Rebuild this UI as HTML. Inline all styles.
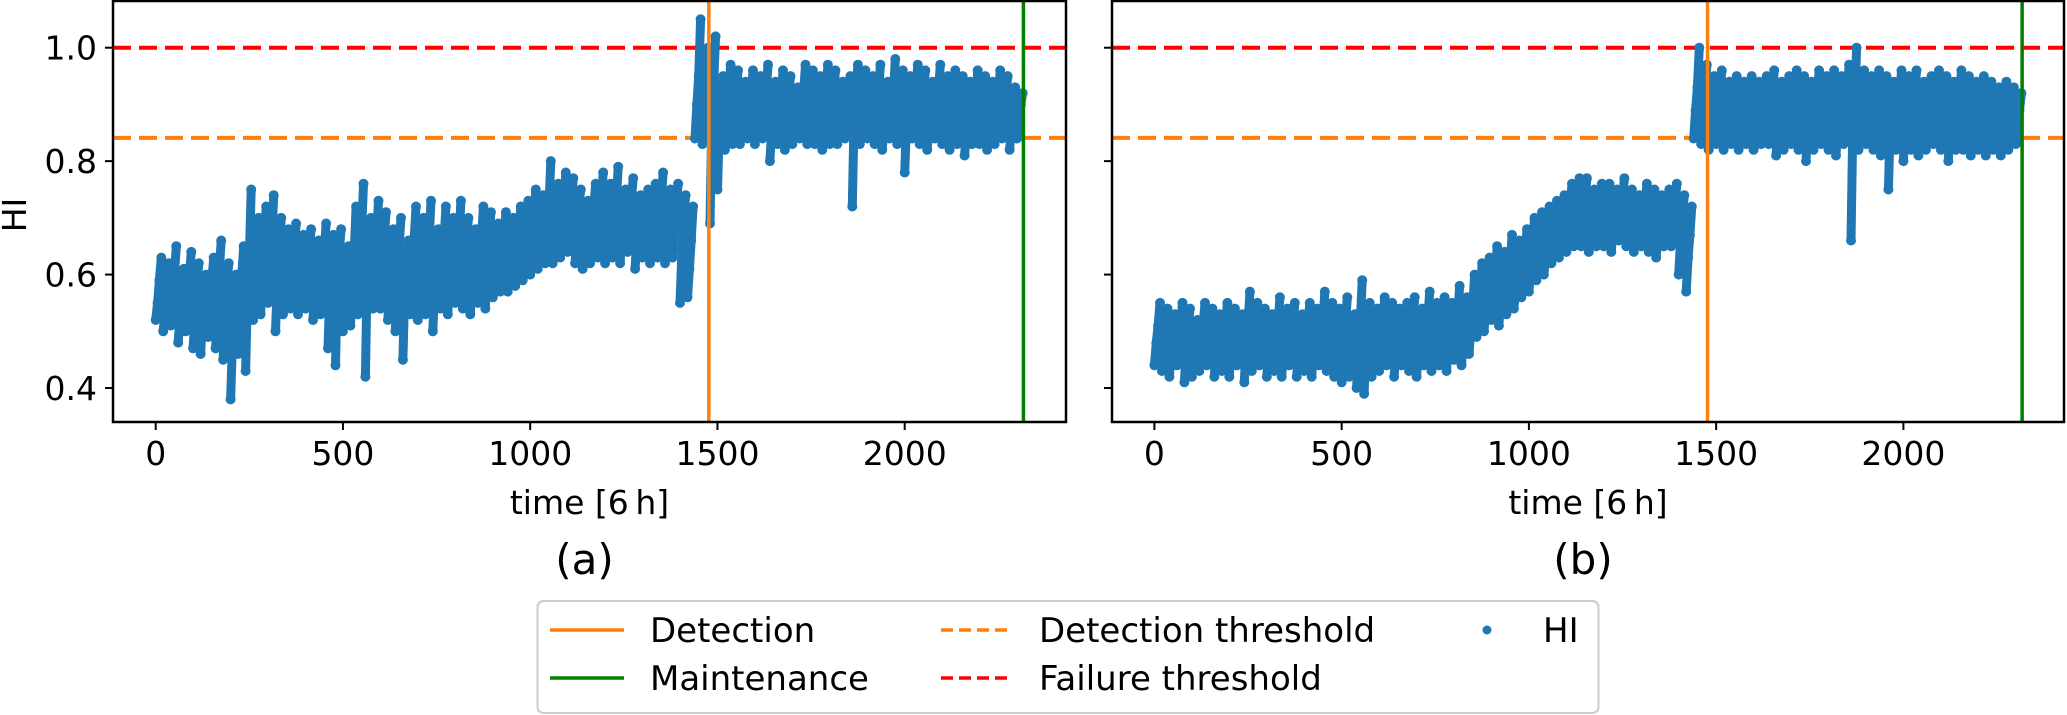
<!DOCTYPE html>
<html><head><meta charset="utf-8">
<style>
html,body{margin:0;padding:0;background:#fff;}
svg{display:block;font-family:"DejaVu Sans","Liberation Sans",sans-serif;}
</style></head>
<body>
<svg id="chart" width="2067" height="715" viewBox="0 0 2067 715" xmlns="http://www.w3.org/2000/svg">
<g id="panels"></g>
<g id="legend">
  <rect x="537.5" y="601" width="1061" height="112" rx="6" fill="#fff" stroke="#cccccc" stroke-width="2"/>
  <g>
    <line x1="550" y1="630" x2="624" y2="630" stroke="#ff7f0e" stroke-width="3.5"/>
    <text x="650" y="642" font-size="34">Detection</text>
  </g>
  <g>
    <line x1="550" y1="678" x2="624" y2="678" stroke="#008000" stroke-width="3.5"/>
    <text x="650" y="690" font-size="34">Maintenance</text>
  </g>
  <g>
    <line x1="941" y1="630" x2="1011" y2="630" stroke="#ff7f0e" stroke-width="3.5" stroke-dasharray="12,6"/>
    <text x="1039" y="642" font-size="34">Detection threshold</text>
  </g>
  <g>
    <line x1="941" y1="678" x2="1011" y2="678" stroke="#ff0000" stroke-width="3.5" stroke-dasharray="12,6"/>
    <text x="1039" y="690" font-size="34">Failure threshold</text>
  </g>
  <g>
    <circle cx="1487" cy="630" r="4.5" fill="#1f77b4"/>
    <text x="1543" y="642" font-size="34">HI</text>
  </g>
</g>
</svg>
<script>
// ---- data (values in hundredths of HI), one entry per 20 time units from t=0 ----
const timeStep = 20;
const xTicks = [0, 500, 1000, 1500, 2000];
const yTicks = [0.4, 0.6, 0.8, 1.0];
const yTickLabels = ["0.4", "0.6", "0.8", "1.0"];
const detectionTime = 1477;
const maintenanceTime = 2317;
const detectionThreshold = 0.841;
const failureThreshold = 1.0;

const hiA_hi = [63,62,65,61,64,62,60,63,66,62, 60,65,75,70,72,74,70,68,69,67, 68,66,69,67,68,65,72,76,70,73, 71,68,70,66,72,70,73,68,72,70, 73,70,68,72,71,69,71,70,72,73, 75,74,80,76,78,77,75,73,76,78, 76,79,75,77,74,75,76,78,75,76, 74,72,105,100,102,95,97,96,94,96, 95,97,94,96,95,93,97,96,95,97, 96,94,95,97,96,95,97,94,98,96, 95,97,96,94,97,95,96,95,94,96, 95,94,96,95,93,92];
const hiA_m2 = [59,58,60,58,60,58,57,59,61,58, 55,60,63,64,65,66,64,63,64,63, 64,63,64,62,64,62,64,68,66,67, 66,64,65,62,66,64,66,63,66,65, 66,65,64,66,66,65,66,66,67,68, 69,70,72,71,72,73,72,71,72,73, 72,73,72,73,71,72,72,73,72,72, 69,66,95,93,94,90,91,91,90,91, 91,92,90,91,91,90,92,91,91,92, 91,90,91,92,91,91,92,90,92,91, 91,92,91,90,92,91,91,91,90,91, 91,90,91,91,90,90];
const hiA_m1 = [55,54,55,53,55,53,52,54,55,53, 48,54,57,59,60,61,59,58,59,58, 59,58,59,57,59,57,58,61,61,62, 61,59,60,57,60,59,60,58,61,60, 61,60,60,61,61,61,62,62,63,64, 65,66,67,67,68,69,68,67,68,69, 68,69,68,69,67,68,68,69,68,68, 64,61,90,88,87,86,87,87,87,87, 87,88,86,87,87,86,88,87,87,88, 87,86,87,88,87,87,88,86,88,87, 87,88,87,86,88,87,87,87,86,87, 87,86,87,87,86,87];
const hiA_lo = [52,50,51,48,50,47,46,49,47,45, 38,46,43,52,53,55,50,53,54,53, 54,52,53,47,44,50,51,53,42,54, 54,52,50,45,53,52,53,50,54,53, 55,54,53,55,54,56,57,57,58,59, 60,61,62,62,63,64,62,61,62,63, 62,63,62,64,61,63,62,63,62,63, 55,56,84,83,69,75,82,83,83,84, 83,84,80,83,82,83,84,83,83,82, 83,83,84,72,83,84,83,82,84,83, 78,84,83,82,84,83,82,83,81,83, 83,82,83,84,82,84];

const hiB_hi = [55,54,53,55,54,52,55,54,53,55, 54,53,57,55,54,53,56,54,55,53, 55,54,57,55,54,56,53,59,55,54, 56,55,54,55,56,54,57,55,56,55, 58,56,60,62,63,65,64,67,66,68, 70,71,72,73,74,76,77,77,75,76, 76,75,77,75,74,76,75,74,75,76, 74,72,100,97,95,96,94,95,94,95, 94,95,96,94,95,96,95,94,96,95, 96,95,97,100,96,95,96,95,94,96, 95,96,94,95,96,95,94,96,95,94, 95,94,93,94,93,92];
const hiB_m2 = [51,50,50,51,50,49,51,50,50,51, 50,50,51,51,50,50,51,50,51,50, 51,50,51,51,50,51,50,52,51,50, 51,51,50,51,51,50,52,51,51,51, 52,52,54,56,57,59,59,61,61,63, 64,66,67,69,70,72,72,73,72,72, 72,72,73,72,71,72,72,71,72,72, 70,67,93,91,90,91,90,91,90,91, 90,91,91,90,91,91,91,90,91,91, 91,90,91,90,91,91,91,91,90,91, 91,91,90,91,91,91,90,91,91,90, 91,90,90,90,89,89];
const hiB_m1 = [48,47,47,48,47,46,48,47,47,48, 47,47,48,48,47,47,48,47,48,47, 48,47,48,48,47,48,47,48,48,47, 48,48,47,48,48,47,48,48,48,48, 49,49,51,53,54,56,56,58,58,60, 61,63,64,66,67,68,69,70,69,69, 69,69,70,69,68,69,69,68,69,69, 66,63,89,88,87,88,87,88,87,88, 87,88,88,87,88,88,88,87,88,88, 88,87,88,86,88,88,88,88,87,88, 88,88,87,88,88,88,87,88,88,87, 88,87,87,87,86,86];
const hiB_lo = [44,43,42,44,41,42,43,44,42,43, 42,44,41,43,44,42,43,42,44,42, 43,42,44,43,42,41,42,40,39,42, 43,44,42,44,43,42,44,43,44,43, 45,44,46,49,50,52,51,53,54,56, 57,59,60,62,63,64,65,65,64,65, 65,64,66,65,64,65,64,63,65,65, 60,57,84,83,82,83,82,83,82,83, 82,83,83,81,82,83,82,80,82,83, 82,81,83,66,82,83,82,81,75,82, 80,82,81,82,83,82,80,82,82,81, 82,81,82,81,82,83];

// ---- layout ----
const NS = "http://www.w3.org/2000/svg";
const panelsG = document.getElementById("panels");
const Y0 = 47.7, YS = 567.2, TOP = 1, BOTTOM = 422, XS = 0.3745;
const yOf = v => Y0 + (1 - v) * YS;

function mk(tag, attrs, parent) {
  const el = document.createElementNS(NS, tag);
  for (const k in attrs) el.setAttribute(k, attrs[k]);
  parent.appendChild(el);
  return el;
}

function drawPanel(key, left, right, x0, series, showYLabels, caption) {
  const g = mk("g", {}, panelsG);
  
  
  const xOf = t => x0 + t * XS;
  const clipId = "clip-" + key;
  const cp = mk("clipPath", {id: clipId}, g);
  mk("rect", {x: left, y: TOP, width: right - left, height: BOTTOM - TOP}, cp);

  // thresholds
  const ft = mk("line", {x1: left, x2: right, y1: yOf(failureThreshold), y2: yOf(failureThreshold), stroke: "#ff0000", "stroke-width": 4, "stroke-dasharray": "18,8"}, g);
  
  
  const dt = mk("line", {x1: left, x2: right, y1: yOf(detectionThreshold), y2: yOf(detectionThreshold), stroke: "#ff7f0e", "stroke-width": 4, "stroke-dasharray": "18,8"}, g);
  
  

  // points
  const pg = mk("g", {"clip-path": "url(#" + clipId + ")", fill: "#1f77b4"}, g);
  
  
  const offsets = [0, 5, 10, 15];
  // dense point clusters: connect the samples of each time step with a thick round stroke
  const n = series[0].length;
  for (let i = 0; i < n; i++) {
    const pts = series.map((arr, si) => xOf(i * timeStep + offsets[si]).toFixed(1) + "," + yOf(arr[i] / 100).toFixed(1)).join(" ");
    const pl = mk("polyline", {points: pts, fill: "none", stroke: "#1f77b4", "stroke-width": 9, "stroke-linecap": "round", "stroke-linejoin": "round"}, pg);
    
    
  }
  series.forEach((arr, si) => {
    arr.forEach((v, i) => {
      const c = mk("circle", {cx: xOf(i * timeStep + offsets[si]).toFixed(1), cy: yOf(v / 100).toFixed(1), r: 5}, pg);
      
      
    });
  });

  // vertical lines
  const dl = mk("line", {x1: xOf(detectionTime), x2: xOf(detectionTime), y1: TOP, y2: BOTTOM, stroke: "#ff7f0e", "stroke-width": 3.5}, g);
  
  
  const ml = mk("line", {x1: xOf(maintenanceTime), x2: xOf(maintenanceTime), y1: TOP, y2: BOTTOM, stroke: "#008000", "stroke-width": 3.5}, g);
  
  

  // frame
  const fr = mk("rect", {x: left, y: TOP, width: right - left, height: BOTTOM - TOP, fill: "none", stroke: "#000", "stroke-width": 2.5}, g);
  
  

  // x ticks
  xTicks.forEach(t => {
    const x = xOf(t);
    mk("line", {x1: x, x2: x, y1: BOTTOM, y2: BOTTOM + 8, stroke: "#000", "stroke-width": 2}, g);
    const tx = mk("text", {x: x, y: BOTTOM + 43, "font-size": 33, "text-anchor": "middle"}, g);
    tx.textContent = String(t);
    
    
  });
  // y ticks
  yTicks.forEach((v, i) => {
    const y = yOf(v);
    mk("line", {x1: left - 8, x2: left, y1: y, y2: y, stroke: "#000", "stroke-width": 2}, g);
    if (showYLabels) {
      const ty = mk("text", {x: left - 16, y: y + 12, "font-size": 33, "text-anchor": "end"}, g);
      ty.textContent = yTickLabels[i];
      
      
    }
  });
  const xl = mk("text", {x: (left + right) / 2, y: 514, "font-size": 33, "text-anchor": "middle"}, g);
  xl.textContent = "time [6\u2009h]";
  
  
  const cap = mk("text", {x: (left + right) / 2 - 5, y: 574, "font-size": 42, "text-anchor": "middle"}, g);
  cap.textContent = caption;
  
  
}

drawPanel("a", 113, 1066, 155.7, [hiA_lo, hiA_m1, hiA_m2, hiA_hi], true, "(a)");
drawPanel("b", 1112, 2064, 1154.4, [hiB_lo, hiB_m1, hiB_m2, hiB_hi], false, "(b)");

const yl = mk("text", {x: 0, y: 0, "font-size": 33, "text-anchor": "middle", transform: "translate(26,215) rotate(-90)"}, panelsG);
yl.textContent = "HI";


</script>
</body></html>
